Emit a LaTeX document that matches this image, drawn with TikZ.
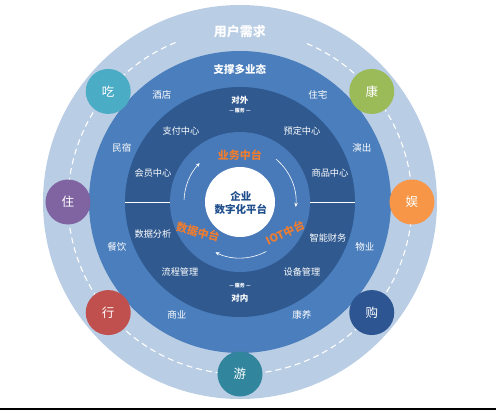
\documentclass[tikz,border=0pt]{standalone}
\usepackage{fontspec}
\newfontfamily\cjk{Noto Sans CJK SC}
\usetikzlibrary{arrows.meta}
\definecolor{ringlight}{RGB}{185,205,228}
\definecolor{ringmid}{RGB}{74,126,188}
\definecolor{ringdark}{RGB}{47,89,143}
\definecolor{ringinner}{RGB}{72,122,186}
\definecolor{midorange}{RGB}{237,125,49}
\definecolor{coretext}{RGB}{31,78,140}
\definecolor{cchi}{RGB}{75,172,198}
\definecolor{ckang}{RGB}{155,187,89}
\definecolor{cyu}{RGB}{247,150,70}
\definecolor{cgou}{RGB}{44,85,145}
\definecolor{cyou}{RGB}{49,133,156}
\definecolor{cxing}{RGB}{192,80,77}
\definecolor{czhu}{RGB}{128,100,162}
\begin{document}
\begin{tikzpicture}[x=1pt,y=1pt]
            \tikzset{
                bubble/.style={circle,minimum size=45pt,inner sep=0pt,text=white,font=\cjk\fontsize{12.5}{12.5}\selectfont},
                ringlbl/.style={text=white,font=\cjk\fontsize{9.5}{9.5}\selectfont},
                headlbl/.style={text=white,font=\cjk\bfseries\fontsize{8.5}{8.5}\selectfont},
                tinylbl/.style={text=white,font=\cjk\bfseries\fontsize{5}{5}\selectfont},
                midlbl/.style={text=midorange,font=\cjk\bfseries\fontsize{11}{11}\selectfont},
                cyclearrow/.style={white,line width=0.6pt,-{Stealth[length=4pt,width=3.5pt]}},}
            \def\rdash{172}
            \def\rloop{56}
            \useasboundingbox (-240,-208) rectangle (256,202);
            % rings
            \fill[ringlight] (0,0) circle (197);
            \draw[white,dashed,line width=1.1pt,dash pattern=on 6pt off 4pt] (112:\rdash) arc[start angle=112,end angle=428,radius=\rdash];
            \fill[ringmid] (0,0) circle (151);
            \fill[ringdark] (0,0) circle (115);
            \fill[ringinner] (0,0) circle (70);
            \fill[white] (0,0) circle (35);
            \draw[white,line width=1pt] (-115,0) -- (-70,0) (70,0) -- (115,0);
            % loop arrows
            \draw[cyclearrow] (178:\rloop) arc[start angle=178,end angle=136,radius=\rloop];
            \draw[cyclearrow] (50:\rloop) arc[start angle=50,end angle=-5,radius=\rloop];
            \draw[cyclearrow] (-62:\rloop) arc[start angle=-62,end angle=-116,radius=\rloop];
            % outer bubbles
            \foreach \ang/\col/\nm/\txt in {140/cchi/chi/吃, 40/ckang/kang/康, 0/cyu/yu/娱, -40/cgou/gou/购,
                                             -90/cyou/you/游, -140/cxing/xing/行, 180/czhu/zhu/住}
                \node[bubble,fill=\col] (\nm) at (\ang:\rdash) {\txt};
            \node[text=white,font=\cjk\bfseries\fontsize{13}{13}\selectfont] (need) at (0,170) {用户需求};
            \node[headlbl,font=\cjk\bfseries\fontsize{10.5}{10.5}\selectfont] (multi) at (0,133) {支撑多业态};
            % business formats
            \foreach \pos/\nm/\txt in {{(-78,107)}/hotel/酒店, {(78,107)}/house/住宅, {(-118,54)}/homestay/民宿,
                                       {(122,54)}/show/演出, {(-123,-45)}/food/餐饮, {(125,-45)}/estate/物业,
                                       {(-63,-113)}/retail/商业, {(62,-113)}/care/康养}
                \node[ringlbl] (\nm) at \pos {\txt};
            % services
            \node[headlbl] (outer) at (0,102) {对外};
            \node[tinylbl] (outsrv) at (0,91) {— 服务 —};
            \node[tinylbl] (insrv) at (0,-84) {— 服务 —};
            \node[headlbl] (inner) at (0,-96) {对内};
            \foreach \pos/\nm/\txt in {{(-59,71)}/pay/支付中心, {(62,71)}/book/预定中心, {(-87,29)}/member/会员中心,
                                       {(90,29)}/goods/商品中心, {(-87,-32)}/analysis/数据分析, {(88,-36)}/finance/智能财务,
                                       {(-60,-70)}/process/流程管理, {(62,-70)}/device/设备管理}
                \node[ringlbl,font=\cjk\fontsize{9.2}{9.2}\selectfont] (\nm) at \pos {\txt};
            % middle platforms
            \node[midlbl] (biz) at (0,47) {业务中台};
            \node[midlbl,rotate=-15,inner sep=0pt] (data) at (-42,-30) {数据中台};
            \node[midlbl,rotate=25,inner sep=0pt] (iot) at (45,-31) {IOT中台};
            \node[text=coretext,font=\cjk\bfseries\fontsize{10.5}{12.5}\selectfont,align=center] (core) at (1,-1) {企业\\数字化平台};
            \draw[black,line width=1.2pt] (-240,-207) -- (256,-207);
        \end{tikzpicture}
\end{document}
